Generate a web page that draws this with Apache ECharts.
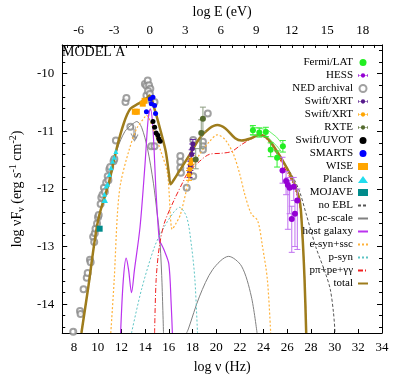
<html>
<head>
<meta charset="utf-8">
<title>SED model A</title>
<script src="https://cdn.jsdelivr.net/npm/echarts@6/dist/echarts.min.js"></script>
</head>
<body style="margin:0;background:#fff">
<div id="main" style="width:407px;height:379px;"></div>
<script>
var FONT = 'Liberation Serif';
var LOG_H = 14.383; // log E(eV) = log nu(Hz) - 14.383

// axis ticks
var nuTicks = [8, 10, 12, 14, 16, 18, 20, 22, 24, 26, 28, 30, 32, 34];
var eTicks = [-6, -3, 0, 3, 6, 9, 12, 15, 18];
var yTicks = [-14, -13, -12, -11, -10];

// model curves [log nu, log nuFnu]
var totalCurve = [[8.62,-14.5],[9.21,-13.69],[10.02,-12.55],[10.98,-11.86],[11.53,-11.35],[12.2,-10.86],[12.75,-10.61],[13.43,-10.52],[14.0,-10.45],[14.38,-10.38],[14.79,-10.61],[15.33,-11.01],[15.74,-11.35],[16.0,-11.72],[16.15,-11.92],[16.4,-11.85],[16.7,-11.75],[17.78,-11.4],[18.6,-11.12],[19.42,-10.95],[20.1,-10.89],[20.78,-10.95],[21.6,-11.12],[22.15,-11.16],[22.96,-11.12],[23.64,-11.06],[24.32,-11.12],[25.14,-11.35],[25.95,-11.63],[26.5,-11.86],[27.05,-12.2],[27.26,-12.72],[27.46,-13.57],[27.6,-14.5]];
var noEblCurve = [[25.5,-11.47],[25.95,-11.62],[26.5,-11.8],[27.05,-12.05],[27.59,-12.43],[28.4,-13.0],[29.22,-13.46],[29.63,-13.74],[29.9,-14.14],[30.04,-14.5]];
var pcScale1 = [[8.62,-14.5],[9.21,-13.69],[10.02,-12.56],[10.98,-11.88],[11.66,-11.3],[12.3,-11.0],[12.9,-10.88],[13.3,-10.83],[13.7,-10.93],[14.2,-11.3],[14.7,-11.9],[15.0,-12.4],[15.2,-12.75],[15.4,-13.5],[15.55,-14.5]];
var pcScale2 = [[17.5,-14.5],[17.65,-14.43],[18.6,-13.86],[19.7,-13.4],[21.05,-13.17],[22.14,-13.34],[22.96,-13.86],[23.45,-14.5]];
var hostGalaxy = [[11.93,-14.5],[12.15,-13.6],[12.4,-13.2],[12.6,-13.4],[12.85,-13.8],[13.1,-13.4],[13.57,-12.66],[13.98,-11.6],[14.25,-10.8],[14.44,-10.61],[14.66,-10.95],[14.93,-12.09],[15.2,-12.9],[15.35,-12.95],[15.6,-13.06],[16.0,-13.3],[16.2,-14.0],[16.3,-14.5]];
var eSynSsc = [[11.1,-14.5],[11.39,-13.57],[11.66,-12.43],[11.93,-11.9],[12.61,-11.35],[13.29,-10.95],[13.98,-10.75],[14.1,-10.72],[14.66,-10.95],[15.33,-11.35],[15.88,-11.72],[16.29,-12.7],[16.6,-12.6],[16.97,-12.45],[17.51,-12.0],[17.78,-11.75],[18.6,-11.4],[19.42,-11.18],[20.1,-11.06],[20.78,-11.15],[21.46,-11.4],[22.0,-11.75],[22.42,-12.1],[22.96,-12.43],[23.5,-12.55],[23.91,-13.0],[24.32,-13.57],[24.6,-14.5]];
var pSyn = [[12.85,-14.5],[13.7,-13.74],[14.8,-13.0],[15.61,-12.66],[16.43,-12.4],[16.9,-12.32],[17.51,-12.49],[17.92,-13.0],[18.2,-13.57],[18.42,-14.5]];
var pPion = [[14.8,-14.5],[14.93,-13.57],[15.2,-13.0],[15.61,-12.6],[16.43,-12.2],[17.24,-11.86],[17.51,-11.75],[18.6,-11.52],[19.42,-11.4],[20.47,-11.38],[21.3,-11.35],[22.14,-11.23],[22.96,-11.13],[23.64,-11.08],[24.05,-11.1],[24.6,-11.22],[25.14,-11.4],[25.95,-11.7],[26.5,-11.92],[27.05,-12.28],[27.3,-12.9],[27.5,-13.7],[27.6,-14.5]];

// data points
var nedPts = [[7.93,-14.48],[8.5,-14.12],[8.55,-14.17],[8.8,-13.74],[9.07,-13.54],[9.15,-13.46],[9.34,-13.23],[9.4,-13.27],[9.61,-12.83],[9.7,-12.92],[9.75,-12.77],[9.81,-12.69],[9.94,-12.6],[10.02,-12.49],[10.08,-12.45],[10.24,-12.26],[10.3,-12.15],[10.4,-12.1],[10.52,-11.98],[10.6,-12.05],[10.71,-11.89],[10.84,-11.78],[10.9,-11.85],[10.98,-11.66],[11.05,-11.62],[11.33,-11.52],[11.4,-11.48],[11.53,-11.16],[12.34,-10.49],[12.42,-10.42],[12.75,-10.92],[13.98,-10.18],[14.11,-10.21],[14.22,-10.12],[14.33,-10.2],[14.44,-10.26],[14.11,-10.38],[14.25,-10.3],[14.4,-10.35],[14.52,-10.46],[14.52,-11.26],[14.79,-10.49],[14.79,-11.26],[16.97,-11.43],[16.97,-11.53],[16.97,-11.63],[17.02,-11.72],[17.51,-11.98],[18.06,-11.15],[18.06,-11.78],[18.88,-11.18],[18.88,-11.26],[18.88,-11.32],[19.29,-10.69]];
var nedLimits = [[13.0,-11.0],[13.1,-11.06],[13.2,-11.02]];
var planckPts = [[10.52,-12.2],[10.57,-12.09],[10.65,-12.2],[10.71,-11.95],[10.84,-11.92],[10.98,-11.75],[11.12,-11.63],[11.25,-11.52],[11.4,-11.45],[11.53,-11.35]];
var mojavePts = [[10.16,-12.69]];
var wisePts = [[13.13,-10.66],[13.3,-10.66],[13.8,-10.52],[13.95,-10.47]];
var smartsPts = [[14.11,-10.66],[14.44,-10.44],[14.52,-10.52],[14.66,-10.41],[14.8,-10.55],[14.88,-10.69]];
var uvotPts = [[14.66,-10.83],[14.8,-10.93],[14.93,-11.03],[15.07,-11.07],[15.15,-11.13],[15.27,-11.17]];
// [x, y, yLow, yHigh, xHalfWidth]
var xrtPurple = [[17.75,-11.72,-11.8,-11.64,0.06],[17.82,-11.6,-11.68,-11.52,0.06],[17.88,-11.5,-11.58,-11.42,0.06],[17.93,-11.4,-11.48,-11.32,0.06],[17.98,-11.3,-11.38,-11.22,0.06],[18.03,-11.22,-11.3,-11.14,0.06]];
var xrtOrange = [[17.7,-11.76,-11.85,-11.68,0.06],[17.78,-11.66,-11.74,-11.58,0.06],[17.85,-11.56,-11.64,-11.48,0.06],[17.92,-11.5,-11.58,-11.42,0.06]];
var rxtePts = [[18.27,-11.49,-11.65,-11.3,0.1],[18.74,-11.03,-11.3,-10.8,0.1],[18.88,-10.78,-11.0,-10.58,0.1]];
var fermiPts = [[23.1,-10.98,-11.06,-10.9,0.15],[23.64,-11.02,-11.1,-10.94,0.15],[24.19,-11.01,-11.09,-10.93,0.15],[24.6,-11.32,-11.44,-11.2,0.15],[25.14,-11.46,-11.62,-11.34,0.15],[25.63,-11.26,-11.36,-11.16,0.15]];
var fermiUpper = [[22.85,-10.92],[24.3,-10.97],[25.1,-11.1],[25.5,-11.2]];
var fermiLower = [[22.85,-11.06],[24.3,-11.1],[25.1,-11.25],[25.5,-11.35]];
var hessPts = [[25.6,-11.68,-11.9,-11.45,0.08],[25.9,-11.86,-12.1,-11.7,0.08],[26.05,-11.93,-12.7,-11.8,0.08],[26.2,-11.98,-12.43,-11.85,0.08],[26.55,-11.96,-12.2,-11.8,0.08],[26.85,-12.2,-13.05,-12.0,0.08],[26.65,-12.43,-13.0,-12.2,0.08],[26.38,-12.52,-13.1,-12.3,0.08]];

var legendNames = ['Fermi/LAT', 'HESS', 'NED archival', 'Swift/XRT', 'Swift/XRT ', 'RXTE', 'Swift/UVOT', 'SMARTS', 'WISE', 'Planck', 'MOJAVE', 'no EBL', 'pc-scale', 'host galaxy', 'e-syn+ssc', 'p-syn', 'p\u03c0+pe+\u03b3\u03b3', 'total'];
var lineNames = ['no EBL', 'pc-scale', 'host galaxy', 'e-syn+ssc', 'p-syn', 'p\u03c0+pe+\u03b3\u03b3', 'total'];
var barNames = ['HESS', 'Swift/XRT', 'Swift/XRT ', 'RXTE'];
// circle with a horizontal error bar, used as legend icon
var BAR_ICON = 'path://M0,3.6 L14,3.6 L14,4.4 L0,4.4 Z M0,2 L0.8,2 L0.8,6 L0,6 Z M13.2,2 L14,2 L14,6 L13.2,6 Z M10,4 A3,3 0 1,1 4,4 A3,3 0 1,1 10,4 Z';

function xy(rows) { return rows.map(function (r) { return [r[0], r[1]]; }); }

function errorBars(rows, color) {
  return {
    type: 'custom', data: rows, z: 3,
    encode: { x: 0, y: 1 },
    renderItem: function (params, api) {
      var x = api.value(0), y = api.value(1), lo = api.value(2), hi = api.value(3), dx = api.value(4);
      var a = api.coord([x, lo]), b = api.coord([x, hi]);
      var c = api.coord([x - dx, y]), d = api.coord([x + dx, y]);
      var st = { stroke: color, lineWidth: 1 };
      return {
        type: 'group', children: [
          { type: 'line', shape: { x1: a[0], y1: a[1], x2: b[0], y2: b[1] }, style: st },
          { type: 'line', shape: { x1: a[0] - 3, y1: a[1], x2: a[0] + 3, y2: a[1] }, style: st },
          { type: 'line', shape: { x1: b[0] - 3, y1: b[1], x2: b[0] + 3, y2: b[1] }, style: st },
          { type: 'line', shape: { x1: c[0], y1: c[1], x2: d[0], y2: d[1] }, style: st }
        ]
      };
    }
  };
}

function curve(name, data, color, type, width) {
  return {
    name: name, type: 'line', data: data, smooth: 0.3, symbol: 'none', z: 2,
    lineStyle: { color: color, type: type, width: width || 1 },
    itemStyle: { color: color }
  };
}

function points(name, data, color, symbol, size) {
  return {
    name: name, type: 'scatter', data: data, symbol: symbol, symbolSize: size || 6, z: 4,
    itemStyle: { color: color, opacity: 1 }
  };
}

var minorY = [];
for (var v = -14.4; v < -9.55; v += 0.2) minorY.push(Math.round(v * 10) / 10);
var minorE = [];
for (var e = -7; e <= 19; e++) minorE.push(e);

var tickLabel = { fontFamily: FONT, fontSize: 13, color: '#000' };
var line = { onZero: false, lineStyle: { color: '#000', width: 1 } };
var noLine = { show: false, onZero: false };

var series = [
  {
    name: 'NED archival', type: 'scatter', data: nedPts, symbol: 'emptyCircle', symbolSize: 6, z: 1,
    itemStyle: { color: '#8a8a8a', borderWidth: 0.7 }
  },
  {
    type: 'scatter', data: nedLimits, z: 1, symbolSize: [5, 12],
    symbol: 'path://M5,0 L5,12 M2,8 L5,12 L8,8',
    itemStyle: { color: 'none', borderColor: '#808080', borderWidth: 1 }
  },
  curve('pc-scale', pcScale1, '#808080', 'solid', 1),
  curve(null, pcScale2, '#808080', 'solid', 1),
  curve('host galaxy', hostGalaxy, '#BB33EE', 'solid', 1.2),
  curve('e-syn+ssc', eSynSsc, '#FFB23A', [2, 2], 1.2),
  curve('p-syn', pSyn, '#5CC4C4', [2, 2], 1),
  curve('p\u03c0+pe+\u03b3\u03b3', pPion, '#F02020', [5, 2, 1, 2], 1),
  curve('no EBL', noEblCurve, '#555555', [3, 2], 1),
  curve('total', totalCurve, '#9E7C1C', 'solid', 2.5),
  { type: 'line', data: fermiUpper, symbol: 'none', lineStyle: { color: '#44EE44', width: 0.8 }, z: 2 },
  { type: 'line', data: fermiLower, symbol: 'none', lineStyle: { color: '#44EE44', width: 0.8 }, z: 2 },
  errorBars(fermiPts, '#33EE33'),
  errorBars(hessPts, '#C070F0'),
  errorBars(xrtPurple, '#5A1A9A'),
  errorBars(xrtOrange, '#FFA500'),
  errorBars(rxtePts, '#8C9C80'),
  points('Fermi/LAT', xy(fermiPts), '#22EE22', 'circle', 6),
  points('HESS', xy(hessPts), '#9400D3', 'circle', 6),
  points('Swift/XRT', xy(xrtPurple), '#551A8B', 'circle', 5),
  points('Swift/XRT ', xy(xrtOrange), '#FFA500', 'circle', 5),
  points('RXTE', xy(rxtePts), '#556B2F', 'circle', 6),
  points('Swift/UVOT', uvotPts, '#000000', 'circle', 5),
  points('SMARTS', smartsPts, '#0000FF', 'circle', 5),
  points('WISE', wisePts, '#FFA500', 'rect', 6),
  points('Planck', planckPts, '#22DDEE', 'triangle', 5),
  points('MOJAVE', mojavePts, '#008B8B', 'rect', 6)
];

var chart = echarts.init(document.getElementById('main'));
chart.setOption({
  backgroundColor: '#fff',
  animation: false,
  grid: { left: 51, right: 25, top: 42, bottom: 45 },
  graphic: [{
    type: 'text', left: 62, top: 45,
    style: { text: 'MODEL A', fontFamily: FONT, fontSize: 14, fill: '#000' }
  }],
  legend: {
    orient: 'vertical', right: 33, top: 52, align: 'right',
    itemWidth: 10, itemHeight: 7, itemGap: 2,
    textStyle: { fontFamily: FONT, fontSize: 11, lineHeight: 11, color: '#000' },
    formatter: function (n) { return n.trim(); },
    data: legendNames.map(function (n) {
      if (lineNames.indexOf(n) >= 0) return { name: n, itemStyle: { opacity: 0 } };
      if (barNames.indexOf(n) >= 0) return { name: n, icon: BAR_ICON };
      return { name: n };
    })
  },
  xAxis: [{
    type: 'value', position: 'bottom', min: 7, max: 34,
    name: 'log \u03bd (Hz)', nameLocation: 'middle', nameGap: 27,
    nameTextStyle: { fontFamily: FONT, fontSize: 14, color: '#000' },
    axisLine: line, splitLine: { show: false },
    axisTick: { inside: true, length: 4, lineStyle: { color: '#000' }, customValues: nuTicks },
    axisLabel: Object.assign({ margin: 8, customValues: nuTicks }, tickLabel)
  }, {
    type: 'value', position: 'top', min: 7 - LOG_H, max: 34 - LOG_H,
    name: 'log E (eV)', nameLocation: 'middle', nameGap: 25,
    nameTextStyle: { fontFamily: FONT, fontSize: 14, color: '#000' },
    axisLine: line, splitLine: { show: false },
    axisTick: { inside: true, length: 3, lineStyle: { color: '#000' }, customValues: minorE },
    axisLabel: Object.assign({ margin: 8, customValues: eTicks }, tickLabel)
  }],
  yAxis: [{
    type: 'value', position: 'left', min: -14.5, max: -9.5,
    name: '{a|log \u03bdF}{sub|\u03bd}{a| (erg s}{sup|-1}{a| cm}{sup|-2}{a|)}',
    nameLocation: 'middle', nameGap: 30, nameRotate: 90,
    nameTextStyle: {
      rich: {
        a: { fontFamily: FONT, fontSize: 14, lineHeight: 18, color: '#000' },
        sub: { fontFamily: FONT, fontSize: 10, lineHeight: 10, verticalAlign: 'bottom', color: '#000' },
        sup: { fontFamily: FONT, fontSize: 10, lineHeight: 10, verticalAlign: 'top', color: '#000' }
      }
    },
    axisLine: line, splitLine: { show: false },
    axisTick: { inside: true, length: 5, lineStyle: { color: '#000' }, customValues: yTicks },
    axisLabel: Object.assign({ margin: 8, customValues: yTicks }, tickLabel)
  }, {
    type: 'value', position: 'left', min: -14.5, max: -9.5,
    axisLine: noLine, splitLine: { show: false }, axisLabel: { show: false },
    axisTick: { inside: true, length: 3, lineStyle: { color: '#000' }, customValues: minorY }
  }, {
    type: 'value', position: 'right', min: -14.5, max: -9.5,
    axisLine: line, splitLine: { show: false }, axisLabel: { show: false },
    axisTick: { inside: true, length: 5, lineStyle: { color: '#000' }, customValues: yTicks }
  }, {
    type: 'value', position: 'right', min: -14.5, max: -9.5,
    axisLine: noLine, splitLine: { show: false }, axisLabel: { show: false },
    axisTick: { inside: true, length: 3, lineStyle: { color: '#000' }, customValues: minorY }
  }],
  series: series
});
</script>
</body>
</html>
